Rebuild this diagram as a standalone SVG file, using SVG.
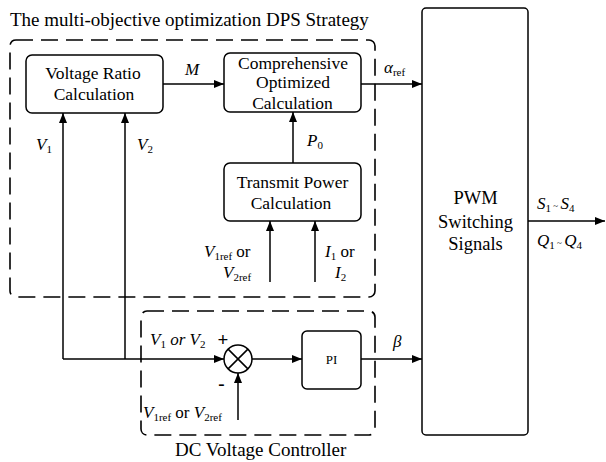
<svg xmlns="http://www.w3.org/2000/svg" width="606" height="462" viewBox="0 0 606 462">
<defs>
<marker id="ah" markerUnits="userSpaceOnUse" markerWidth="11" markerHeight="9" refX="10" refY="4" orient="auto">
<path d="M0,0 L10,4 L0,8 z" fill="#000"/>
</marker>
</defs>
<rect width="606" height="462" fill="#fff"/>

<g id="groups" fill="none" stroke="#000" stroke-width="1.6" stroke-dasharray="17 8">
<rect x="10" y="40" width="365" height="257" rx="6"/>
<rect x="141" y="311" width="234" height="124" rx="6"/>
</g>
<text x="10" y="26" font-family="Liberation Serif" font-size="19" fill="#000">The multi-objective optimization DPS Strategy</text>
<text x="175" y="456" font-family="Liberation Serif" font-size="19" fill="#000">DC Voltage Controller</text>

<g id="connectors" fill="none" stroke="#000" stroke-width="1.5" marker-end="url(#ah)">
<line x1="163" y1="84" x2="224" y2="84"/>
<line x1="361" y1="84" x2="422" y2="84"/>
<line x1="293" y1="163" x2="293" y2="112"/>
<line x1="270" y1="282" x2="270" y2="221"/>
<line x1="315" y1="282" x2="315" y2="221"/>
<line x1="63" y1="359" x2="63" y2="113"/>
<line x1="125" y1="359" x2="125" y2="113"/>
<line x1="63" y1="359" x2="224" y2="359"/>
<line x1="238" y1="420" x2="238" y2="373"/>
<line x1="252" y1="359" x2="302" y2="359"/>
<line x1="361" y1="359" x2="422" y2="359"/>
<line x1="528" y1="221" x2="605" y2="221"/>
</g>

<g id="voltage-ratio">
<rect x="26" y="55" width="137" height="58" rx="6" fill="#fff" stroke="#000" stroke-width="1.5"/>
<text x="93" y="79" text-anchor="middle" font-family="Liberation Serif" font-size="17.5">Voltage Ratio</text>
<text x="94" y="99.5" text-anchor="middle" font-family="Liberation Serif" font-size="17.5">Calculation</text>
</g>

<g id="comprehensive">
<rect x="224" y="53" width="137" height="59" rx="6" fill="#fff" stroke="#000" stroke-width="1.5"/>
<text x="293" y="68.5" text-anchor="middle" font-family="Liberation Serif" font-size="17.5">Comprehensive</text>
<text x="293" y="88" text-anchor="middle" font-family="Liberation Serif" font-size="17.5">Optimized</text>
<text x="292.5" y="108.5" text-anchor="middle" font-family="Liberation Serif" font-size="17.5">Calculation</text>
</g>

<g id="transmit-power">
<rect x="224" y="163" width="137" height="58" rx="6" fill="#fff" stroke="#000" stroke-width="1.5"/>
<text x="292.5" y="187.5" text-anchor="middle" font-family="Liberation Serif" font-size="17.5">Transmit Power</text>
<text x="291" y="208.5" text-anchor="middle" font-family="Liberation Serif" font-size="17.5">Calculation</text>
</g>

<g id="pwm">
<rect x="422" y="8" width="106" height="427" rx="4" fill="#fff" stroke="#000" stroke-width="1.5"/>
<text x="475.5" y="204" text-anchor="middle" font-family="Liberation Serif" font-size="18.5">PWM</text>
<text x="475.5" y="227.5" text-anchor="middle" font-family="Liberation Serif" font-size="18.5">Switching</text>
<text x="475.5" y="249.5" text-anchor="middle" font-family="Liberation Serif" font-size="18.5">Signals</text>
</g>

<g id="sum">
<circle cx="238" cy="359" r="14" fill="#fff" stroke="#000" stroke-width="1.5"/>
<path d="M228.1,349.1 L247.9,368.9 M247.9,349.1 L228.1,368.9" stroke="#000" stroke-width="1.5"/>
<text x="223" y="346" font-family="Liberation Serif" font-size="19" font-weight="bold" text-anchor="middle">+</text>
<text x="221.5" y="389.5" font-family="Liberation Serif" font-size="19" font-weight="bold" text-anchor="middle">-</text>
</g>

<g id="pi">
<rect x="302" y="331" width="59" height="58" rx="5" fill="#fff" stroke="#000" stroke-width="1.5"/>
<text x="331.5" y="363.5" text-anchor="middle" font-family="Liberation Serif" font-size="13">PI</text>
</g>

<g id="labels">
<text x="185" y="75" font-family="Liberation Serif" font-size="17" font-style="italic">M</text>
<text x="384" y="73" font-family="Liberation Serif" font-size="17" font-style="italic">α<tspan font-size="11" font-style="normal" dy="3">ref</tspan></text>
<text x="36" y="150" font-family="Liberation Serif" font-size="17" font-style="italic">V<tspan font-size="11" font-style="normal" dy="3">1</tspan></text>
<text x="137" y="150" font-family="Liberation Serif" font-size="17" font-style="italic">V<tspan font-size="11" font-style="normal" dy="3">2</tspan></text>
<text x="307" y="146" font-family="Liberation Serif" font-size="17" font-style="italic">P<tspan font-size="11" font-style="normal" dy="3">0</tspan></text>
<text x="204" y="257" font-family="Liberation Serif" font-size="17" font-style="italic">V<tspan font-size="11" font-style="normal" dy="3">1ref</tspan><tspan font-style="normal" dy="-3"> or</tspan></text>
<text x="223" y="278" font-family="Liberation Serif" font-size="17" font-style="italic">V<tspan font-size="11" font-style="normal" dy="3">2ref</tspan></text>
<text x="325" y="257" font-family="Liberation Serif" font-size="17" font-style="italic">I<tspan font-size="11" font-style="normal" dy="3">1</tspan><tspan font-style="normal" dy="-3"> or</tspan></text>
<text x="335" y="278" font-family="Liberation Serif" font-size="17" font-style="italic">I<tspan font-size="11" font-style="normal" dy="3">2</tspan></text>
<text x="150" y="345" font-family="Liberation Serif" font-size="17" font-style="italic">V<tspan font-size="11" font-style="normal" dy="3">1</tspan><tspan dy="-3"> or V</tspan><tspan font-size="11" font-style="normal" dy="3">2</tspan></text>
<text x="143" y="418" font-family="Liberation Serif" font-size="17" font-style="italic">V<tspan font-size="11" font-style="normal" dy="3">1ref</tspan><tspan font-style="normal" dy="-3"> or </tspan>V<tspan font-size="11" font-style="normal" dy="3">2ref</tspan></text>
<text x="393" y="347" font-family="Liberation Serif" font-size="17" font-style="italic">β</text>
<text x="537" y="209" font-family="Liberation Serif" font-size="17" font-style="italic">S<tspan font-size="11" font-style="normal" dy="3">1</tspan><tspan font-size="9" font-style="normal" dy="-3"> ~ </tspan>S<tspan font-size="11" font-style="normal" dy="3">4</tspan></text>
<text x="537" y="246" font-family="Liberation Serif" font-size="17" font-style="italic">Q<tspan font-size="11" font-style="normal" dy="3">1</tspan><tspan font-size="9" font-style="normal" dy="-3"> ~ </tspan>Q<tspan font-size="11" font-style="normal" dy="3">4</tspan></text>
</g>
</svg>
